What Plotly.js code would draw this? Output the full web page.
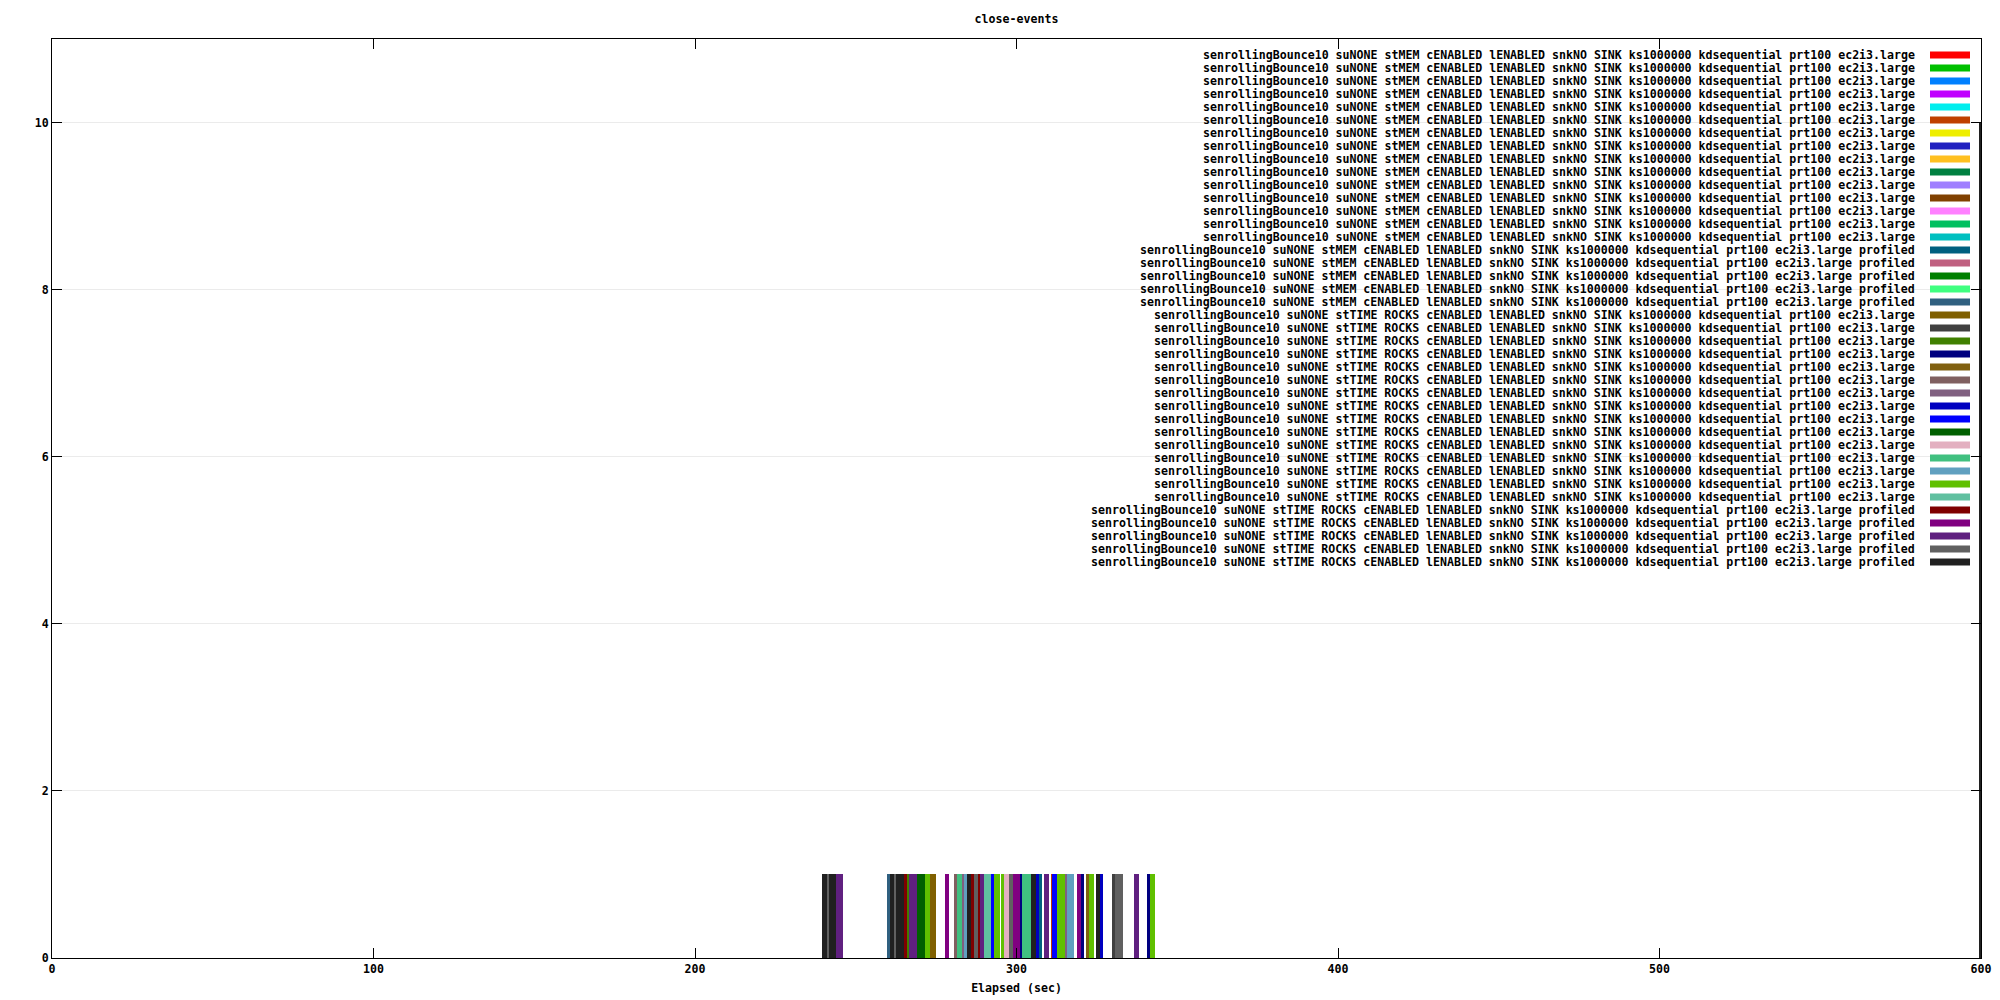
<!DOCTYPE html>
<html>
<head>
<meta charset="utf-8">
<script src="https://cdn.plot.ly/plotly-3.0.1.min.js"></script>
<style>html,body{margin:0;padding:0;background:#fff;}#chart{width:2000px;height:1000px;}</style>
</head>
<body>
<div id="chart"></div>
<script>
// ---- data ----
const chartTitle = "close-events";
const xTitle = "Elapsed (sec)";

const seriesNames = [
  "senrollingBounce10 suNONE stMEM cENABLED lENABLED snkNO SINK ks1000000 kdsequential prt100 ec2i3.large",
  "senrollingBounce10 suNONE stMEM cENABLED lENABLED snkNO SINK ks1000000 kdsequential prt100 ec2i3.large",
  "senrollingBounce10 suNONE stMEM cENABLED lENABLED snkNO SINK ks1000000 kdsequential prt100 ec2i3.large",
  "senrollingBounce10 suNONE stMEM cENABLED lENABLED snkNO SINK ks1000000 kdsequential prt100 ec2i3.large",
  "senrollingBounce10 suNONE stMEM cENABLED lENABLED snkNO SINK ks1000000 kdsequential prt100 ec2i3.large",
  "senrollingBounce10 suNONE stMEM cENABLED lENABLED snkNO SINK ks1000000 kdsequential prt100 ec2i3.large",
  "senrollingBounce10 suNONE stMEM cENABLED lENABLED snkNO SINK ks1000000 kdsequential prt100 ec2i3.large",
  "senrollingBounce10 suNONE stMEM cENABLED lENABLED snkNO SINK ks1000000 kdsequential prt100 ec2i3.large",
  "senrollingBounce10 suNONE stMEM cENABLED lENABLED snkNO SINK ks1000000 kdsequential prt100 ec2i3.large",
  "senrollingBounce10 suNONE stMEM cENABLED lENABLED snkNO SINK ks1000000 kdsequential prt100 ec2i3.large",
  "senrollingBounce10 suNONE stMEM cENABLED lENABLED snkNO SINK ks1000000 kdsequential prt100 ec2i3.large",
  "senrollingBounce10 suNONE stMEM cENABLED lENABLED snkNO SINK ks1000000 kdsequential prt100 ec2i3.large",
  "senrollingBounce10 suNONE stMEM cENABLED lENABLED snkNO SINK ks1000000 kdsequential prt100 ec2i3.large",
  "senrollingBounce10 suNONE stMEM cENABLED lENABLED snkNO SINK ks1000000 kdsequential prt100 ec2i3.large",
  "senrollingBounce10 suNONE stMEM cENABLED lENABLED snkNO SINK ks1000000 kdsequential prt100 ec2i3.large",
  "senrollingBounce10 suNONE stMEM cENABLED lENABLED snkNO SINK ks1000000 kdsequential prt100 ec2i3.large profiled",
  "senrollingBounce10 suNONE stMEM cENABLED lENABLED snkNO SINK ks1000000 kdsequential prt100 ec2i3.large profiled",
  "senrollingBounce10 suNONE stMEM cENABLED lENABLED snkNO SINK ks1000000 kdsequential prt100 ec2i3.large profiled",
  "senrollingBounce10 suNONE stMEM cENABLED lENABLED snkNO SINK ks1000000 kdsequential prt100 ec2i3.large profiled",
  "senrollingBounce10 suNONE stMEM cENABLED lENABLED snkNO SINK ks1000000 kdsequential prt100 ec2i3.large profiled",
  "senrollingBounce10 suNONE stTIME ROCKS cENABLED lENABLED snkNO SINK ks1000000 kdsequential prt100 ec2i3.large",
  "senrollingBounce10 suNONE stTIME ROCKS cENABLED lENABLED snkNO SINK ks1000000 kdsequential prt100 ec2i3.large",
  "senrollingBounce10 suNONE stTIME ROCKS cENABLED lENABLED snkNO SINK ks1000000 kdsequential prt100 ec2i3.large",
  "senrollingBounce10 suNONE stTIME ROCKS cENABLED lENABLED snkNO SINK ks1000000 kdsequential prt100 ec2i3.large",
  "senrollingBounce10 suNONE stTIME ROCKS cENABLED lENABLED snkNO SINK ks1000000 kdsequential prt100 ec2i3.large",
  "senrollingBounce10 suNONE stTIME ROCKS cENABLED lENABLED snkNO SINK ks1000000 kdsequential prt100 ec2i3.large",
  "senrollingBounce10 suNONE stTIME ROCKS cENABLED lENABLED snkNO SINK ks1000000 kdsequential prt100 ec2i3.large",
  "senrollingBounce10 suNONE stTIME ROCKS cENABLED lENABLED snkNO SINK ks1000000 kdsequential prt100 ec2i3.large",
  "senrollingBounce10 suNONE stTIME ROCKS cENABLED lENABLED snkNO SINK ks1000000 kdsequential prt100 ec2i3.large",
  "senrollingBounce10 suNONE stTIME ROCKS cENABLED lENABLED snkNO SINK ks1000000 kdsequential prt100 ec2i3.large",
  "senrollingBounce10 suNONE stTIME ROCKS cENABLED lENABLED snkNO SINK ks1000000 kdsequential prt100 ec2i3.large",
  "senrollingBounce10 suNONE stTIME ROCKS cENABLED lENABLED snkNO SINK ks1000000 kdsequential prt100 ec2i3.large",
  "senrollingBounce10 suNONE stTIME ROCKS cENABLED lENABLED snkNO SINK ks1000000 kdsequential prt100 ec2i3.large",
  "senrollingBounce10 suNONE stTIME ROCKS cENABLED lENABLED snkNO SINK ks1000000 kdsequential prt100 ec2i3.large",
  "senrollingBounce10 suNONE stTIME ROCKS cENABLED lENABLED snkNO SINK ks1000000 kdsequential prt100 ec2i3.large",
  "senrollingBounce10 suNONE stTIME ROCKS cENABLED lENABLED snkNO SINK ks1000000 kdsequential prt100 ec2i3.large profiled",
  "senrollingBounce10 suNONE stTIME ROCKS cENABLED lENABLED snkNO SINK ks1000000 kdsequential prt100 ec2i3.large profiled",
  "senrollingBounce10 suNONE stTIME ROCKS cENABLED lENABLED snkNO SINK ks1000000 kdsequential prt100 ec2i3.large profiled",
  "senrollingBounce10 suNONE stTIME ROCKS cENABLED lENABLED snkNO SINK ks1000000 kdsequential prt100 ec2i3.large profiled",
  "senrollingBounce10 suNONE stTIME ROCKS cENABLED lENABLED snkNO SINK ks1000000 kdsequential prt100 ec2i3.large profiled"
];

const seriesColors = [
  "#ff0000","#00c000","#0080ff","#c000ff","#00eeee","#c04000","#eeee00","#2020c0",
  "#ffc020","#008040","#a080ff","#804000","#ff80ff","#00c060","#00c0c0","#006080",
  "#c06080","#008000","#40ff80","#306080","#806000","#404040","#408000","#000080",
  "#806010","#806060","#806080","#0000c0","#0000ff","#006000","#e3b0c0","#40c080",
  "#60a0c0","#60c000","#60c0a0","#800000","#800080","#602080","#606060","#202020"
];

// close events: time (sec), series number (1-based legend row), count
const eventTime = [
  240.0, 240.6, 242.2, 242.9, 243.4, 261.1, 261.4, 263.0, 264.0, 264.5, 285.1, 285.3, 305.0, 305.6, 325.2, 325.5, 600.0,
  241.4, 262.2, 287.3, 287.5, 298.2, 298.4, 331.1, 332.1, 332.6,
  244.5, 245.5, 267.1, 268.1, 268.6, 289.1, 289.4, 309.1, 309.6, 337.0, 337.6,
  278.3, 278.5, 299.4, 300.4, 300.6, 319.3, 319.6,
  265.45, 286.3, 288.3,
  290.4, 291.4, 291.6,
  272.0, 272.6, 293.5, 294.5, 295.6, 313.1, 314.1, 314.6, 323.1, 323.6, 342.0, 342.6,
  284.15, 316.2, 317.2, 317.4,
  282.0, 282.5, 302.2, 303.2, 304.0,
  296.6, 297.2,
  269.6, 270.6, 271.0,
  292.55, 311.5, 312.1,
  306.55, 326.45,
  283.35, 315.4,
  281.1,
  322.1,
  301.4, 320.5, 341.1,
  266.1,
  330.2,
  273.6, 274.5,
  260.1,
  307.45,
  311.2
];
const eventSeries = [
  40, 40, 40, 40, 40, 40, 40, 40, 40, 40, 40, 40, 40, 40, 40, 40, 40,
  39, 39, 39, 39, 39, 39, 39, 39, 39,
  38, 38, 38, 38, 38, 38, 38, 38, 38, 38, 38,
  37, 37, 37, 37, 37, 37, 37,
  36, 36, 36,
  35, 35, 35,
  34, 34, 34, 34, 34, 34, 34, 34, 34, 34, 34, 34,
  33, 33, 33, 33,
  32, 32, 32, 32, 32,
  31, 31,
  30, 30, 30,
  29, 29, 29,
  28, 28,
  27, 27,
  26,
  25,
  24, 24, 24,
  23,
  22,
  21, 21,
  20,
  16,
  6
];
const eventCount = [
  1, 1, 1, 1, 1, 1, 1, 1, 1, 1, 1, 1, 1, 1, 1, 1, 10,
  1, 1, 1, 1, 1, 1, 1, 1, 1,
  1, 1, 1, 1, 1, 1, 1, 1, 1, 1, 1,
  1, 1, 1, 1, 1, 1, 1,
  1, 1, 1,
  1, 1, 1,
  1, 1, 1, 1, 1, 1, 1, 1, 1, 1, 1, 1,
  1, 1, 1, 1,
  1, 1, 1, 1, 1,
  1, 1,
  1, 1, 1,
  1, 1, 1,
  1, 1,
  1, 1,
  1,
  1,
  1, 1, 1,
  1,
  1,
  1, 1,
  1,
  1,
  1
];

const xTicks = [0, 100, 200, 300, 400, 500, 600];
const yTicks = [0, 2, 4, 6, 8, 10];

// ---- geometry (pixels) ----
const W = 2000, H = 1000;
const PL = 52, PR = 1981, PT = 39, PB = 958;
const pw = PR - PL, ph = PB - PT;
const FONT = "DejaVu Sans Mono, Liberation Mono, monospace";
const fnt = {family: FONT, size: 11.6, color: "#000", weight: "bold"};

const px2x = p => (p - PL) / pw;
const px2y = p => (PB - p) / ph;

// ---- traces ----
const traces = seriesNames.map((name, i) => {
  const xs = [], ys = [];
  for (let k = 0; k < eventTime.length; k++) {
    if (eventSeries[k] === i + 1) { xs.push(eventTime[k]); ys.push(eventCount[k]); }
  }
  return {
    type: "bar", name: name, x: xs, y: ys, width: 1,
    marker: {color: seriesColors[i], line: {width: 0}, opacity: 1},
    showlegend: false, hoverinfo: "skip"
  };
});

// ---- custom gnuplot-style legend (text right-aligned, swatch on the right) ----
const rowY0 = 55, rowStep = 13;
const annotations = [];
const shapes = [];
shapes.push({
  type: "rect", xref: "paper", yref: "paper", layer: "between",
  x0: px2x(1086), x1: px2x(1979), y0: px2y(572), y1: px2y(PT + 1),
  fillcolor: "#ffffff", line: {width: 0}
});
seriesNames.forEach((name, i) => {
  const yc = rowY0 + i * rowStep;
  annotations.push({
    xref: "paper", yref: "paper", x: px2x(1916), y: px2y(yc),
    xanchor: "right", yanchor: "middle", showarrow: false,
    text: name, font: fnt, borderpad: 0
  });
  shapes.push({
    type: "rect", xref: "paper", yref: "paper", layer: "above",
    x0: px2x(1930), x1: px2x(1970), y0: px2y(yc + 3.5), y1: px2y(yc - 3.5),
    fillcolor: seriesColors[i], line: {width: 0}
  });
});

const axisCommon = {
  showline: true, linecolor: "#000", linewidth: 1, mirror: "ticks",
  ticks: "inside", ticklen: 10, tickwidth: 1, tickcolor: "#000",
  zeroline: false, tickfont: fnt, automargin: false
};

const layout = {
  width: W, height: H,
  margin: {l: PL, r: W - PR, t: PT, b: H - PB, pad: 0},
  paper_bgcolor: "#fff", plot_bgcolor: "#fff",
  barmode: "overlay", bargap: 0,
  showlegend: false,
  title: {text: chartTitle, font: fnt, x: (PL + PR) / 2 / W, xanchor: "center", y: 1 - 19 / H, yanchor: "middle", xref: "container", yref: "container"},
  xaxis: Object.assign({}, axisCommon, {
    range: [0, 600], tickvals: xTicks, ticktext: xTicks.map(String), showgrid: false,
    title: {text: xTitle, font: fnt, standoff: 8}
  }),
  yaxis: Object.assign({}, axisCommon, {
    range: [0, 11], tickvals: yTicks, ticktext: yTicks.map(String),
    showgrid: true, gridcolor: "#ebebeb", gridwidth: 1
  }),
  annotations: annotations,
  shapes: shapes,
  hovermode: false
};

Plotly.newPlot("chart", traces, layout, {staticPlot: true, displayModeBar: false});
</script>
</body>
</html>
